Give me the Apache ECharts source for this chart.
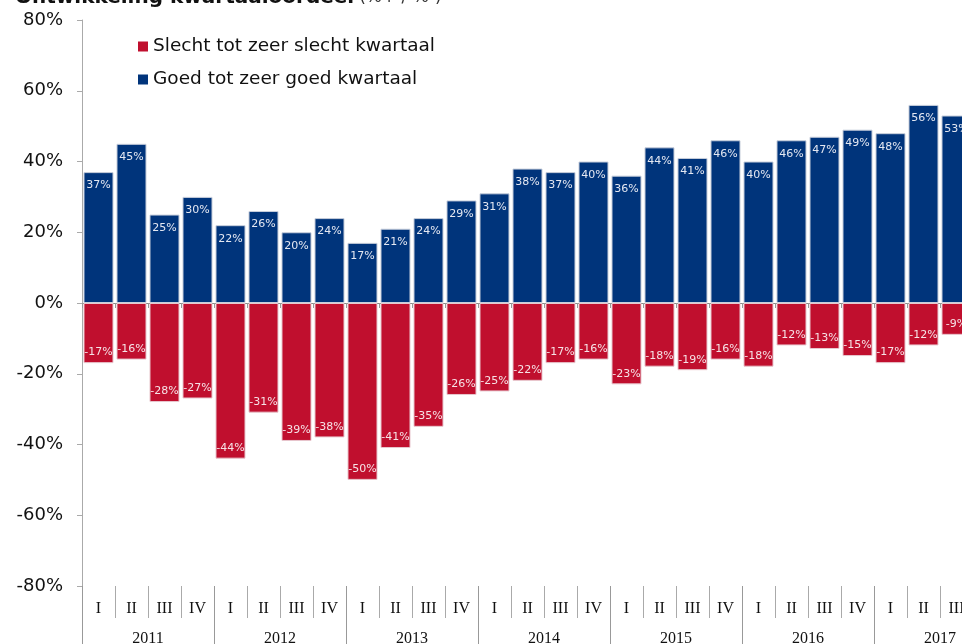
<!DOCTYPE html>
<html>
<head>
<meta charset="utf-8">
<script src="https://cdn.jsdelivr.net/npm/echarts@6/dist/echarts.min.js"></script>
<style>
html, body { margin: 0; padding: 0; background: #fff; overflow: hidden; }
#chart { width: 973px; height: 644px; }
</style>
</head>
<body>
<div id="chart"></div>
<script>
var quarters = ['I', 'II', 'III', 'IV', 'I', 'II', 'III', 'IV', 'I', 'II', 'III', 'IV',
    'I', 'II', 'III', 'IV', 'I', 'II', 'III', 'IV', 'I', 'II', 'III', 'IV', 'I', 'II', 'III'];
var years = ['2011', '2012', '2013', '2014', '2015', '2016', '2017'];
var goed = [37, 45, 25, 30, 22, 26, 20, 24, 17, 21, 24, 29, 31, 38, 37, 40,
    36, 44, 41, 46, 40, 46, 47, 49, 48, 56, 53];
var slecht = [-17, -16, -28, -27, -44, -31, -39, -38, -50, -41, -35, -26, -25, -22, -17, -16,
    -23, -18, -19, -16, -18, -12, -13, -15, -17, -12, -9];
var yTicks = [-80, -60, -40, -20, 0, 20, 40, 60, 80];

var chart = echarts.init(document.getElementById('chart'));

var option = {
    animation: false,
    title: {
        left: 10,
        top: -17,
        text: '{b|Ontwikkeling kwartaaloordeel} {n|(%+ / %-)}',
        textStyle: {
            rich: {
                b: { fontFamily: 'DejaVu Sans', fontWeight: 'bold', fontSize: 20, color: '#111' },
                n: { fontFamily: 'DejaVu Sans', fontWeight: 'normal', fontSize: 17, color: '#333' }
            }
        }
    },
    legend: {
        orient: 'vertical',
        left: 133,
        top: 32,
        itemWidth: 10,
        itemHeight: 10,
        itemGap: 14,
        icon: 'rect',
        itemStyle: { borderWidth: 0 },
        data: ['Slecht tot zeer slecht kwartaal', 'Goed tot zeer goed kwartaal'],
        textStyle: { fontFamily: 'DejaVu Sans', fontSize: 18.5, color: '#111' }
    },
    grid: { left: 82, right: 0, top: 20, bottom: 58, containLabel: false, outerBoundsMode: 'none' },
    xAxis: [{
        type: 'category',
        data: quarters,
        axisLine: { onZero: true, lineStyle: { color: '#888', width: 1 } },
        axisTick: { show: true, length: 5, lineStyle: { color: '#999' } },
        axisLabel: { show: false }
    }, {
        type: 'category',
        data: quarters,
        position: 'bottom',
        axisLine: { show: false },
        axisTick: { show: true, length: 32, interval: 0, lineStyle: { color: '#aaa' } },
        axisLabel: {
            show: true, interval: 0, margin: 15,
            fontFamily: 'Liberation Serif', fontSize: 16, color: '#111'
        }
    }, {
        type: 'category',
        data: quarters,
        position: 'bottom',
        axisLine: { show: false },
        axisTick: {
            show: true,
            length: 60,
            interval: function (i) { return i % 4 === 0; },
            lineStyle: { color: '#999' }
        },
        axisLabel: {
            show: true,
            margin: 45,
            interval: function (i) { return i % 4 === 1; },
            formatter: function (v, i) { return years[Math.floor(i / 4)]; },
            padding: [0, 0, 0, 33],
            fontFamily: 'Liberation Serif', fontSize: 16, color: '#111'
        }
    }],
    yAxis: {
        type: 'value',
        min: yTicks[0],
        max: yTicks[yTicks.length - 1],
        interval: 20,
        splitLine: { show: false },
        axisLine: { show: true, lineStyle: { color: '#aaa' } },
        axisTick: { show: true, length: 5, lineStyle: { color: '#aaa' } },
        axisLabel: {
            margin: 19,
            formatter: '{value}%',
            fontFamily: 'DejaVu Sans', fontSize: 18, color: '#111'
        }
    },
    series: [{
        name: 'Slecht tot zeer slecht kwartaal',
        type: 'bar',
        stack: 'k',
        data: slecht,
        barCategoryGap: '9%',
        itemStyle: { color: '#C00F2E', borderColor: '#e8c8cf', borderWidth: 1 },
        label: {
            show: true,
            position: 'insideBottom',
            distance: 5,
            formatter: '{c}%',
            fontFamily: 'DejaVu Sans', fontSize: 11, color: '#f6e2e6'
        }
    }, {
        name: 'Goed tot zeer goed kwartaal',
        type: 'bar',
        stack: 'k',
        data: goed,
        barCategoryGap: '9%',
        itemStyle: { color: '#00347B', borderColor: '#c8cfdc', borderWidth: 1 },
        label: {
            show: true,
            position: 'insideTop',
            distance: 8,
            formatter: '{c}%',
            fontFamily: 'DejaVu Sans', fontSize: 11, color: '#e4e8f2'
        }
    }]
};

chart.setOption(option);
</script>
</body>
</html>
